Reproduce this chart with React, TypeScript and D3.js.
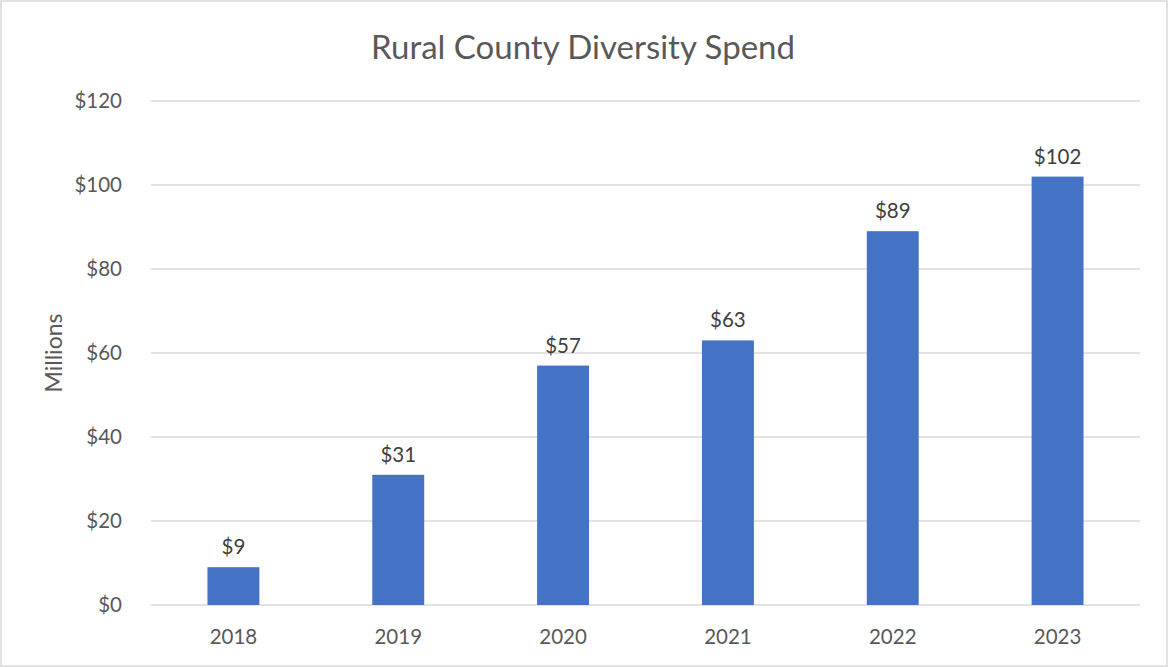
import React from "react";
import * as d3 from "d3";

const years = ["2018", "2019", "2020", "2021", "2022", "2023"];
const spend = [9, 31, 57, 63, 89, 102];
const yTicks = [0, 20, 40, 60, 80, 100, 120];

const W = 1168;
const H = 667;
const FONT = "Lato, 'Open Sans', sans-serif";
const TEXT = "#595959";

export default function App() {
  const x = d3.scaleBand<string>().domain(years).range([151, 1140]).paddingInner(0.685).paddingOuter(0.3425);
  const y = d3.scaleLinear().domain([0, 120]).range([605, 101]);
  const fmt = (v: number) => `$${v}`;
  return (
    <svg width={W} height={H} style={{ position: "absolute", left: 0, top: 0, background: "#fff" }}>
      <rect x={1} y={1} width={W - 2} height={H - 2} fill="#fff" stroke="#d9d9d9" strokeWidth={1.5} />
      <text x={583} y={59} textAnchor="middle" fontFamily={FONT} fontSize={33} fill={TEXT}>
        Rural County Diversity Spend
      </text>
      {yTicks.map((t) => (
        <g key={t}>
          <line x1={151} x2={1140} y1={y(t)} y2={y(t)} stroke="#d9d9d9" strokeWidth={1.5} />
          <text x={122} y={y(t)} dy="0.35em" textAnchor="end" fontFamily={FONT} fontSize={20.5} fill={TEXT}>
            {fmt(t)}
          </text>
        </g>
      ))}
      <text
        transform={`translate(62,353) rotate(-90)`}
        textAnchor="middle"
        fontFamily={FONT}
        fontSize={23}
        fill={TEXT}
      >
        Millions
      </text>
      {years.map((yr, i) => (
        <g key={yr}>
          <rect x={x(yr)} y={y(spend[i])} width={x.bandwidth()} height={y(0) - y(spend[i])} fill="#4472c4" />
          <text
            x={(x(yr) as number) + x.bandwidth() / 2}
            y={y(spend[i]) - 13}
            textAnchor="middle"
            fontFamily={FONT}
            fontSize={20.5}
            fill="#404040"
          >
            {fmt(spend[i])}
          </text>
          <text
            x={(x(yr) as number) + x.bandwidth() / 2}
            y={644}
            textAnchor="middle"
            fontFamily={FONT}
            fontSize={20.5}
            fill={TEXT}
          >
            {yr}
          </text>
        </g>
      ))}
    </svg>
  );
}
